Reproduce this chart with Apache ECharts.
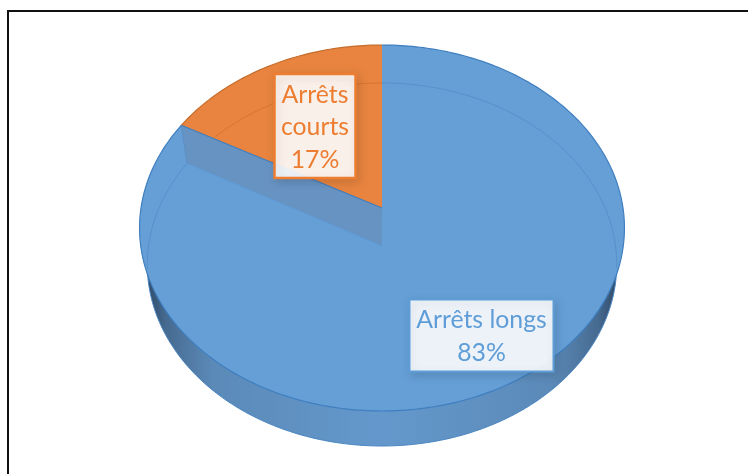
<!DOCTYPE html>
<html>
<head>
<meta charset="utf-8">
<style>html,body{margin:0;padding:0;background:#fff}#c{width:748px;height:474px}</style>
<script src="https://cdn.jsdelivr.net/npm/echarts@6/dist/echarts.min.js"></script>
</head>
<body>
<div id="c"></div>
<script>
const categories = ['Arrêts longs', 'Arrêts courts'];
const shares = [83, 17];
const sliceColors = ['#659FD6', '#E8843F'];
const labelColors = ['#5F9DD8', '#ED7D31'];

// Perspective disc: projected centre, half-extents and foreshortening of each face.
const topFace = {cx: 382, cy: 208, A: 241, B: 180.8, k: 0.1093};
const baseFace = {cx: 382, cy: 246, A: 233.5, B: 179.6, k: 0.102};
const total = shares.reduce((s, v) => s + v, 0);
const pt = (f, deg) => {
  const t = deg * Math.PI / 180, a = Math.sin(t), b = Math.cos(t), w = 1 + f.k * b;
  return [f.cx + f.A * a / w, f.cy - f.B * b / w];
};
const arc = (f, from, to) => {
  const out = [], n = Math.max(2, Math.ceil(Math.abs(to - from)));
  for (let i = 0; i <= n; i++) out.push(pt(f, from + (to - from) * i / n));
  return out;
};
const insideTop = p => {
  const dx = (p[0] - 382) / 241.5, dy = (p[1] - 228) / 183;
  return dx * dx + dy * dy < 0.995;
};
// Runs of consecutive points that pass a test, so a filtered arc never bridges a gap.
const runs = (points, test) => {
  const out = [];
  let cur = [];
  points.forEach(p => {
    if (test(p)) cur.push(p);
    else { if (cur.length > 1) out.push(cur); cur = []; }
  });
  if (cur.length > 1) out.push(cur);
  return out;
};
const poly = (points, style, z2) => ({type: 'polygon', z2, silent: true, shape: {points}, style});
const line = (points, stroke, lineWidth, z2) => ({type: 'polyline', z2, silent: true, shape: {points}, style: {stroke, lineWidth, fill: null}});

const labelBoxes = [
  {x: 409.5, y: 299.5, w: 144, h: 72, border: 2, yText: [320, 353]},
  {x: 274.5, y: 74, w: 81, h: 104, border: 2.5, yText: [95, 127.5, 160]}
];

function renderItem(params, api) {
  const i = params.dataIndex;
  let before = 0;
  for (let j = 0; j < i; j++) before += shares[j];
  const from = before / total * 360, to = (before + api.value(0)) / total * 360;
  const children = [];
  const apex = [topFace.cx, topFace.cy];
  if (i === 0) {
    const side = new echarts.graphic.LinearGradient(0, 0, 1, 0, [
      {offset: 0, color: '#2F4A68'}, {offset: 0.04, color: '#466A90'},
      {offset: 0.14, color: '#5B8AB8'}, {offset: 0.5, color: '#6498CC'},
      {offset: 0.86, color: '#5B8AB8'}, {offset: 0.96, color: '#466A90'},
      {offset: 1, color: '#2F4A68'}
    ]);
    children.push(poly(arc(baseFace, 0, 360), {fill: side, stroke: '#4A86C2', lineWidth: 1}, 1));
  }
  children.push(poly([apex].concat(arc(topFace, from, to)), {fill: sliceColors[i]}, 2 + i));
  if (i === 0) {
    runs(arc(baseFace, 0, to), insideTop).forEach(seg =>
      children.push(line(seg, 'rgba(62,120,185,0.38)', 1, 3)));
    const a = pt(topFace, to), b = pt(baseFace, to), c = [baseFace.cx, baseFace.cy];
    children.push(poly([apex, a, b, c], {fill: '#6793C3'}, 4));
    children.push(line([b, c], '#5E9BD6', 1, 5));
    children.push(line([a, b], '#5C8FC6', 1, 5));
    children.push(line([a, apex], '#3F7EBE', 1.2, 5));
    children.push(line(arc(topFace, from, to), '#3F7FC0', 1.2, 6));
  } else {
    const p = pt(topFace, from);
    const inSlice = q => q[0] <= apex[0] && (q[1] - apex[1]) * (p[0] - apex[0]) > (q[0] - apex[0]) * (p[1] - apex[1]);
    runs(arc(baseFace, from - 20, to), inSlice).forEach(seg =>
      children.push(line(seg, 'rgba(205,105,40,0.6)', 1, 7)));
    children.push(line(arc(topFace, from, to), '#C56D2C', 1.2, 8));
  }

  const box = labelBoxes[i];
  children.push({
    type: 'rect', z2: 20, silent: true,
    shape: {x: box.x, y: box.y, width: box.w, height: box.h},
    style: {fill: 'rgba(255,255,255,0.89)', stroke: labelColors[i], lineWidth: box.border,
      shadowBlur: 9, shadowColor: 'rgba(0,0,0,0.14)', shadowOffsetX: 2, shadowOffsetY: 3}
  });
  const name = categories[i];
  const lines = i === 0 ? [name, api.value(0) + '%'] : name.split(' ').concat(api.value(0) + '%');
  lines.forEach((text, n) => children.push({
    type: 'text', z2: 21, silent: true,
    style: {text, x: box.x + box.w / 2, y: box.yText[n], fill: labelColors[i],
      font: '24.8px Lato', align: 'center', verticalAlign: 'middle'}
  }));
  return {type: 'group', children};
}

const chart = echarts.init(document.getElementById('c'), null, {renderer: 'canvas'});
chart.setOption({
  animation: false,
  backgroundColor: '#fff',
  graphic: [{
    type: 'polyline', silent: true,
    shape: {points: [[8, 474], [8, 11], [748, 11]]},
    style: {stroke: '#111', lineWidth: 2, fill: null}
  }],
  series: [{
    type: 'custom',
    coordinateSystem: 'none',
    renderItem,
    data: shares.map((v, i) => ({name: categories[i], value: [v]}))
  }]
});
</script>
</body>
</html>
